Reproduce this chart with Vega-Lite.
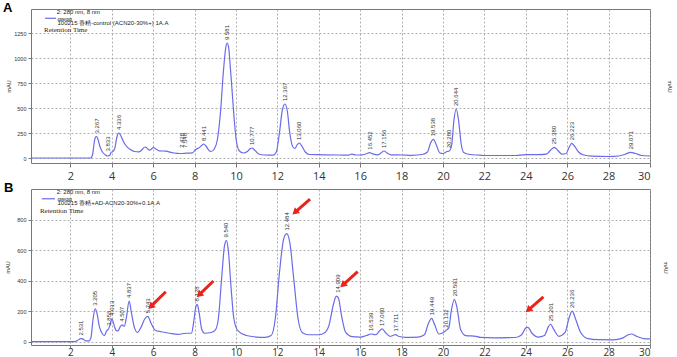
{
"$schema": "https://vega.github.io/schema/vega-lite/v6.json",
"autosize": {"type": "none"},
"padding": {"left": 31, "top": 9, "right": 646, "bottom": 348},
"background": "white",
"spacing": 26,
"bounds": "flush",
"config": {
  "font": "Liberation Sans",
  "view": {"stroke": "#777", "strokeWidth": 1},
  "axisX": {"values": [2,4,6,8,10,12,14,16,18,20,22,24,26,28,30], "labelFontSize": 11, "labelFont": "Open Sans", "labelColor": "#333", "tickSize": 4, "tickColor": "#777", "labelPadding": 3, "domain": false, "grid": true, "gridDash": [2,2], "gridColor": "#9a9a9a", "gridWidth": 0.8, "title": null},
  "axisY": {"format": "d", "labelFontSize": 5.5, "labelColor": "#333", "tickSize": 3, "tickColor": "#777", "labelPadding": 2, "domain": false, "grid": true, "gridDash": [2,2], "gridColor": "#9a9a9a", "gridWidth": 0.8, "titleFontSize": 5.5, "titleFontWeight": "normal", "titleColor": "#333"}
},
"datasets": {
  "a": [
    {"t":0.1,"v":0},{"t":2.9,"v":0},{"t":3.0,"v":2},{"t":3.08,"v":40},{"t":3.15,"v":150},{"t":3.22,"v":210},{"t":3.27,"v":215},{"t":3.33,"v":190},{"t":3.42,"v":120},{"t":3.55,"v":60},{"t":3.7,"v":30},{"t":3.8,"v":20},{"t":3.85,"v":22},{"t":3.92,"v":30},{"t":3.97,"v":58},{"t":4.05,"v":62},{"t":4.15,"v":100},{"t":4.25,"v":210},{"t":4.34,"v":250},{"t":4.42,"v":230},{"t":4.55,"v":170},{"t":4.7,"v":120},{"t":4.9,"v":85},{"t":5.1,"v":65},{"t":5.3,"v":62},{"t":5.45,"v":80},{"t":5.6,"v":110},{"t":5.7,"v":100},{"t":5.82,"v":78},{"t":5.92,"v":90},{"t":6.0,"v":105},{"t":6.1,"v":95},{"t":6.3,"v":72},{"t":6.6,"v":68},{"t":7.0,"v":50},{"t":7.3,"v":45},{"t":7.6,"v":48},{"t":7.9,"v":52},{"t":8.05,"v":85},{"t":8.2,"v":100},{"t":8.35,"v":125},{"t":8.44,"v":140},{"t":8.55,"v":120},{"t":8.7,"v":75},{"t":8.8,"v":65},{"t":8.95,"v":90},{"t":9.1,"v":180},{"t":9.25,"v":450},{"t":9.4,"v":880},{"t":9.52,"v":1120},{"t":9.58,"v":1150},{"t":9.65,"v":1100},{"t":9.75,"v":850},{"t":9.9,"v":430},{"t":10.0,"v":200},{"t":10.15,"v":75},{"t":10.35,"v":50},{"t":10.55,"v":65},{"t":10.7,"v":95},{"t":10.78,"v":100},{"t":10.9,"v":80},{"t":11.1,"v":40},{"t":11.4,"v":30},{"t":11.8,"v":28},{"t":11.95,"v":60},{"t":12.1,"v":250},{"t":12.25,"v":490},{"t":12.37,"v":540},{"t":12.48,"v":470},{"t":12.6,"v":250},{"t":12.75,"v":110},{"t":12.85,"v":95},{"t":12.95,"v":130},{"t":13.06,"v":150},{"t":13.18,"v":120},{"t":13.35,"v":60},{"t":13.55,"v":35},{"t":14.0,"v":33},{"t":15.0,"v":30},{"t":15.4,"v":28},{"t":15.6,"v":38},{"t":15.8,"v":30},{"t":16.1,"v":32},{"t":16.3,"v":42},{"t":16.45,"v":53},{"t":16.6,"v":42},{"t":16.85,"v":32},{"t":17.0,"v":50},{"t":17.15,"v":70},{"t":17.3,"v":50},{"t":17.5,"v":32},{"t":18.0,"v":30},{"t":18.5,"v":27},{"t":19.0,"v":35},{"t":19.25,"v":60},{"t":19.4,"v":150},{"t":19.54,"v":187},{"t":19.68,"v":130},{"t":19.85,"v":50},{"t":20.0,"v":45},{"t":20.2,"v":65},{"t":20.3,"v":70},{"t":20.42,"v":130},{"t":20.53,"v":380},{"t":20.64,"v":490},{"t":20.75,"v":380},{"t":20.88,"v":140},{"t":21.0,"v":55},{"t":21.3,"v":35},{"t":21.8,"v":28},{"t":22.0,"v":25},{"t":23.5,"v":25},{"t":24.0,"v":33},{"t":24.6,"v":33},{"t":25.0,"v":38},{"t":25.2,"v":80},{"t":25.38,"v":107},{"t":25.55,"v":75},{"t":25.75,"v":38},{"t":25.95,"v":45},{"t":26.1,"v":110},{"t":26.22,"v":147},{"t":26.35,"v":120},{"t":26.55,"v":60},{"t":26.8,"v":30},{"t":27.2,"v":18},{"t":28.0,"v":15},{"t":28.5,"v":20},{"t":28.8,"v":38},{"t":29.07,"v":57},{"t":29.3,"v":45},{"t":29.6,"v":25},{"t":30.0,"v":20}
  ],
  "b": [
    {"t":0.1,"v":0},{"t":2.2,"v":0},{"t":2.35,"v":8},{"t":2.5,"v":20},{"t":2.6,"v":18},{"t":2.75,"v":5},{"t":2.9,"v":5},{"t":3.0,"v":30},{"t":3.1,"v":150},{"t":3.2,"v":215},{"t":3.28,"v":190},{"t":3.4,"v":100},{"t":3.55,"v":50},{"t":3.65,"v":40},{"t":3.75,"v":70},{"t":3.85,"v":85},{"t":3.92,"v":110},{"t":4.01,"v":150},{"t":4.1,"v":115},{"t":4.2,"v":75},{"t":4.3,"v":70},{"t":4.42,"v":100},{"t":4.5,"v":110},{"t":4.6,"v":100},{"t":4.7,"v":150},{"t":4.84,"v":266},{"t":4.95,"v":190},{"t":5.1,"v":90},{"t":5.25,"v":60},{"t":5.4,"v":90},{"t":5.6,"v":150},{"t":5.74,"v":166},{"t":5.9,"v":120},{"t":6.1,"v":75},{"t":6.4,"v":65},{"t":6.8,"v":55},{"t":7.2,"v":48},{"t":7.6,"v":55},{"t":7.85,"v":55},{"t":7.95,"v":120},{"t":8.05,"v":220},{"t":8.13,"v":244},{"t":8.22,"v":190},{"t":8.35,"v":80},{"t":8.5,"v":55},{"t":8.8,"v":60},{"t":9.0,"v":75},{"t":9.15,"v":150},{"t":9.3,"v":400},{"t":9.45,"v":630},{"t":9.54,"v":662},{"t":9.63,"v":600},{"t":9.75,"v":380},{"t":9.9,"v":150},{"t":10.1,"v":70},{"t":10.5,"v":40},{"t":11.0,"v":30},{"t":11.4,"v":28},{"t":11.7,"v":40},{"t":11.9,"v":150},{"t":12.1,"v":450},{"t":12.3,"v":670},{"t":12.45,"v":708},{"t":12.6,"v":650},{"t":12.8,"v":400},{"t":13.0,"v":150},{"t":13.2,"v":60},{"t":13.5,"v":45},{"t":14.0,"v":45},{"t":14.3,"v":60},{"t":14.5,"v":110},{"t":14.7,"v":240},{"t":14.85,"v":298},{"t":14.95,"v":285},{"t":15.1,"v":170},{"t":15.3,"v":60},{"t":15.6,"v":33},{"t":16.0,"v":30},{"t":16.3,"v":40},{"t":16.54,"v":50},{"t":16.75,"v":45},{"t":16.9,"v":65},{"t":17.06,"v":83},{"t":17.25,"v":55},{"t":17.45,"v":35},{"t":17.6,"v":42},{"t":17.71,"v":46},{"t":17.85,"v":35},{"t":18.2,"v":28},{"t":18.8,"v":30},{"t":19.1,"v":45},{"t":19.3,"v":120},{"t":19.45,"v":153},{"t":19.6,"v":110},{"t":19.8,"v":50},{"t":19.95,"v":55},{"t":20.13,"v":72},{"t":20.28,"v":90},{"t":20.4,"v":200},{"t":20.55,"v":277},{"t":20.68,"v":220},{"t":20.85,"v":80},{"t":21.1,"v":40},{"t":21.6,"v":35},{"t":21.8,"v":28},{"t":22.5,"v":25},{"t":23.5,"v":27},{"t":23.8,"v":45},{"t":24.0,"v":90},{"t":24.1,"v":93},{"t":24.3,"v":55},{"t":24.6,"v":30},{"t":24.9,"v":40},{"t":25.1,"v":100},{"t":25.2,"v":114},{"t":25.35,"v":80},{"t":25.6,"v":35},{"t":25.9,"v":60},{"t":26.1,"v":160},{"t":26.24,"v":200},{"t":26.4,"v":150},{"t":26.65,"v":60},{"t":27.0,"v":20},{"t":27.5,"v":13},{"t":28.2,"v":12},{"t":28.7,"v":25},{"t":28.95,"v":45},{"t":29.1,"v":50},{"t":29.35,"v":35},{"t":29.7,"v":20},{"t":30.0,"v":18}
  ],
  "alab": [
    {"t":3.267,"h":215,"label":"3.267"},{"t":3.833,"h":35,"label":"3.833"},{"t":4.336,"h":250,"label":"4.336"},{"t":7.40,"h":70,"label":"7.428"},{"t":7.52,"h":70,"label":"7.548"},{"t":8.441,"h":140,"label":"8.441"},{"t":9.581,"h":1150,"label":"9.581"},{"t":10.777,"h":100,"label":"10.777"},{"t":12.367,"h":540,"label":"12.367"},{"t":13.06,"h":150,"label":"13.060"},{"t":16.452,"h":53,"label":"16.452"},{"t":17.156,"h":70,"label":"17.156"},{"t":19.538,"h":187,"label":"19.538"},{"t":20.28,"h":70,"label":"20.280"},{"t":20.644,"h":490,"label":"20.644"},{"t":25.38,"h":107,"label":"25.380"},{"t":26.223,"h":147,"label":"26.223"},{"t":29.071,"h":57,"label":"29.071"}
  ],
  "blab": [
    {"t":2.531,"h":20,"label":"2.531"},{"t":3.205,"h":215,"label":"3.205"},{"t":3.856,"h":85,"label":"3.856"},{"t":4.013,"h":150,"label":"4.013"},{"t":4.507,"h":110,"label":"4.507"},{"t":4.837,"h":266,"label":"4.837"},{"t":5.743,"h":166,"label":"5.743"},{"t":8.128,"h":244,"label":"8.128"},{"t":9.54,"h":662,"label":"9.540"},{"t":12.484,"h":708,"label":"12.484"},{"t":14.909,"h":300,"label":"14.909"},{"t":16.539,"h":50,"label":"16.539"},{"t":17.06,"h":83,"label":"17.060"},{"t":17.711,"h":46,"label":"17.711"},{"t":19.449,"h":153,"label":"19.449"},{"t":20.132,"h":72,"label":"20.132"},{"t":20.591,"h":277,"label":"20.591"},{"t":25.201,"h":114,"label":"25.201"},{"t":26.236,"h":200,"label":"26.236"}
  ],
  "arrows": [
    {"t":6.61,"v":327,"t2":5.88,"v2":229},{"t":8.91,"v":397,"t2":8.22,"v2":306},{"t":13.58,"v":934,"t2":12.85,"v2":847},{"t":15.88,"v":458,"t2":15.16,"v2":371},{"t":24.85,"v":294,"t2":24.12,"v2":207}
  ],
  "aleg": [
    {"t":1.34,"v":1460,"text":"2: 280 nm, 8 nm","role":"info"},{"t":1.38,"v":1395,"text":"qwqq","role":"info"},{"t":1.38,"v":1349,"text":"100215 香精-control (ACN20-30%+) 1A.A","role":"info"},{"t":0.73,"v":1278,"text":"Retention Time","role":"head"}
  ],
  "bleg": [
    {"t":1.34,"v":978,"text":"2: 280 nm, 8 nm","role":"info"},{"t":1.38,"v":936,"text":"qwqq","role":"info"},{"t":1.38,"v":906,"text":"100215 香精+AD-ACN20-30%+0.1A.A","role":"info"},{"t":0.53,"v":856,"text":"Retention Time","role":"head"}
  ],
  "asam": [{"t":0.78,"t2":1.31,"v":1397}],
  "bsam": [{"t":0.62,"t2":1.26,"v":936}]
},
"vconcat": [
  {
    "width": 619, "height": 154,
    "title": {"text": "A", "anchor": "start", "frame": "group", "fontSize": 13, "fontWeight": "bold", "font": "Liberation Sans", "color": "#000", "dx": -28, "dy": 6, "offset": 0},
    "resolve": {"axis": {"y": "independent"}},
    "layer": [
      {"data": {"name": "a"}, "mark": {"type": "line", "color": "#6b6be8", "strokeWidth": 1.2, "interpolate": "monotone"},
       "encoding": {
         "x": {"field": "t", "type": "quantitative", "scale": {"domain": [0.1, 30], "nice": false, "zero": false}},
         "y": {"field": "v", "type": "quantitative", "scale": {"domain": [-50, 1490], "nice": false, "zero": false}, "axis": {"values": [0,250,500,750,1000,1250], "title": "mAU", "titlePadding": 2}}
       }},
      {"data": {"name": "alab"}, "mark": {"type": "text", "angle": 270, "align": "left", "baseline": "middle", "dx": 3, "fontSize": 6, "font": "Liberation Sans", "color": "#333"},
       "encoding": {
         "x": {"field": "t", "type": "quantitative"},
         "y": {"field": "h", "type": "quantitative", "axis": {"orient": "right", "title": "mAU", "labels": false, "ticks": false, "grid": false, "domain": false, "titlePadding": 16}},
         "text": {"field": "label"}
       }},
      {"data": {"name": "aleg"}, "transform": [{"filter": "datum.role == 'info'"}], "mark": {"type": "text", "align": "left", "baseline": "middle", "fontSize": 6, "color": "#222"},
       "encoding": {"x": {"field": "t", "type": "quantitative"}, "y": {"field": "v", "type": "quantitative", "axis": null}, "text": {"field": "text"}}},
      {"data": {"name": "aleg"}, "transform": [{"filter": "datum.role == 'head'"}], "mark": {"type": "text", "align": "left", "baseline": "middle", "fontSize": 7, "font": "Liberation Serif", "color": "#222"},
       "encoding": {"x": {"field": "t", "type": "quantitative"}, "y": {"field": "v", "type": "quantitative", "axis": null}, "text": {"field": "text"}}},
      {"data": {"name": "asam"}, "mark": {"type": "rule", "color": "#6b6be8", "strokeWidth": 1.2},
       "encoding": {"x": {"field": "t", "type": "quantitative"}, "x2": {"field": "t2"}, "y": {"field": "v", "type": "quantitative", "axis": null}}}
    ]
  },
  {
    "width": 619, "height": 156,
    "title": {"text": "B", "anchor": "start", "frame": "group", "fontSize": 13, "fontWeight": "bold", "font": "Liberation Sans", "color": "#000", "dx": -27, "dy": 6, "offset": 0},
    "resolve": {"axis": {"y": "independent"}},
    "layer": [
      {"data": {"name": "b"}, "mark": {"type": "line", "color": "#6b6be8", "strokeWidth": 1.2, "interpolate": "monotone"},
       "encoding": {
         "x": {"field": "t", "type": "quantitative", "scale": {"domain": [0.1, 30], "nice": false, "zero": false}, "axis": {"labelPadding": -1, "tickSize": 3, "labelFontSize": 10}},
         "y": {"field": "v", "type": "quantitative", "scale": {"domain": [-22, 1000], "nice": false, "zero": false}, "axis": {"values": [0,200,400,600,800], "title": "mAU", "titlePadding": 6}}
       }},
      {"data": {"name": "blab"}, "mark": {"type": "text", "angle": 270, "align": "left", "baseline": "middle", "dx": 3, "fontSize": 6, "font": "Liberation Sans", "color": "#333"},
       "encoding": {
         "x": {"field": "t", "type": "quantitative"},
         "y": {"field": "h", "type": "quantitative", "axis": {"orient": "right", "title": "mAU", "labels": false, "ticks": false, "grid": false, "domain": false, "titlePadding": 12}},
         "text": {"field": "label"}
       }},
      {"data": {"name": "bleg"}, "transform": [{"filter": "datum.role == 'info'"}], "mark": {"type": "text", "align": "left", "baseline": "middle", "fontSize": 6, "color": "#222"},
       "encoding": {"x": {"field": "t", "type": "quantitative"}, "y": {"field": "v", "type": "quantitative", "axis": null}, "text": {"field": "text"}}},
      {"data": {"name": "bleg"}, "transform": [{"filter": "datum.role == 'head'"}], "mark": {"type": "text", "align": "left", "baseline": "middle", "fontSize": 7, "font": "Liberation Serif", "color": "#222"},
       "encoding": {"x": {"field": "t", "type": "quantitative"}, "y": {"field": "v", "type": "quantitative", "axis": null}, "text": {"field": "text"}}},
      {"data": {"name": "bsam"}, "mark": {"type": "rule", "color": "#6b6be8", "strokeWidth": 1.2},
       "encoding": {"x": {"field": "t", "type": "quantitative"}, "x2": {"field": "t2"}, "y": {"field": "v", "type": "quantitative", "axis": null}}},
      {"data": {"name": "arrows"}, "mark": {"type": "rule", "color": "#e8251c", "strokeWidth": 3},
       "encoding": {"x": {"field": "t", "type": "quantitative"}, "x2": {"field": "t2"}, "y": {"field": "v", "type": "quantitative", "axis": null}, "y2": {"field": "v2"}}},
      {"data": {"name": "arrows"}, "mark": {"type": "point", "shape": "triangle-up", "filled": true, "color": "#e8251c", "opacity": 1, "size": 60, "angle": 228},
       "encoding": {"x": {"field": "t2", "type": "quantitative"}, "y": {"field": "v2", "type": "quantitative", "axis": null}}}
    ]
  }
]
}
